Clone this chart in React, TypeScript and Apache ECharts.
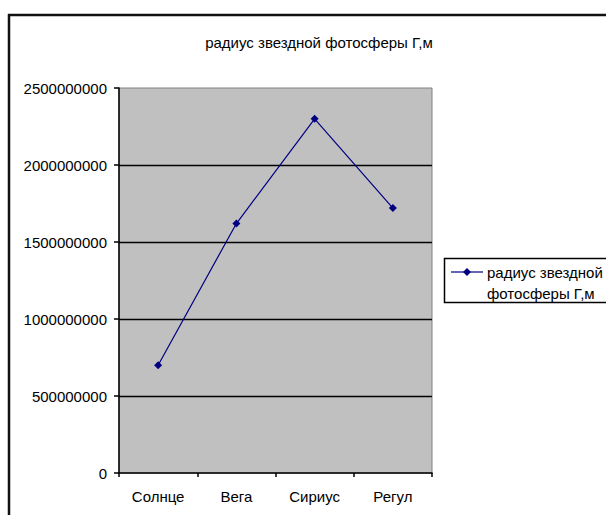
import React, { useEffect, useRef } from "react";
import * as echarts from "echarts";

// Stars and their photosphere radius, in metres
const stars = ["Солнце", "Вега", "Сириус", "Регул"];
const radiusMetres = [700000000, 1620000000, 2300000000, 1720000000];
const seriesName = "радиус звездной фотосферы Г,м";
const legendLines = ["радиус звездной", "фотосферы Г,м"];

const FONT = "'Liberation Sans', Arial, sans-serif";
const LINE_COLOR = "#000080";

export default function App() {
  const ref = useRef<HTMLDivElement>(null);

  useEffect(() => {
    if (!ref.current) return;
    const chart = echarts.init(ref.current, undefined, { renderer: "svg" });

    const legendX = 444;
    const legendY = 258;

    chart.setOption({
      animation: false,
      backgroundColor: "#ffffff",
      textStyle: { fontFamily: FONT },
      title: {
        text: seriesName,
        left: 314,
        top: 30,
        textAlign: "center",
        textStyle: { fontFamily: FONT, fontSize: 15, fontWeight: "normal", color: "#000" },
      },
      grid: {
        left: 119,
        top: 88,
        width: 313,
        height: 385,
        show: true,
        backgroundColor: "#C0C0C0",
        borderColor: "#808080",
        borderWidth: 1,
      },
      xAxis: {
        type: "category",
        data: stars,
        boundaryGap: true,
        axisLine: { show: true, lineStyle: { color: "#000", width: 1.5 } },
        axisTick: { show: true, length: 4, lineStyle: { color: "#000", width: 1.5 } },
        axisLabel: { margin: 16, fontFamily: FONT, fontSize: 15, color: "#000" },
        splitLine: { show: false },
      },
      yAxis: {
        type: "value",
        min: 0,
        max: 2500000000,
        interval: 500000000,
        axisLine: { show: true, lineStyle: { color: "#000", width: 1.5 } },
        axisTick: { show: true, length: 5, lineStyle: { color: "#000", width: 1.5 } },
        axisLabel: {
          margin: 12,
          fontFamily: FONT,
          fontSize: 15,
          color: "#000",
          formatter: (v: number) => String(v),
        },
        splitLine: {
          show: true,
          showMinLine: false,
          showMaxLine: false,
          lineStyle: { color: "#000", width: 1.4 },
        },
      },
      series: [
        {
          name: seriesName,
          type: "line",
          data: radiusMetres,
          symbol: "diamond",
          symbolSize: 8,
          lineStyle: { color: LINE_COLOR, width: 1.2 },
          itemStyle: { color: LINE_COLOR },
        },
      ],
      graphic: [
        // chart area frame (top and left edges; the rest runs off the page)
        {
          type: "line",
          shape: { x1: 9, y1: 515, x2: 9, y2: 14 },
          style: { stroke: "#111", lineWidth: 2.5 },
          silent: true,
          z: 100,
        },
        {
          type: "line",
          shape: { x1: 8, y1: 15, x2: 606, y2: 15 },
          style: { stroke: "#111", lineWidth: 2.5 },
          silent: true,
          z: 100,
        },
        // legend box
        {
          type: "rect",
          shape: { x: legendX + 0.5, y: legendY + 0.5, width: 200, height: 44 },
          style: { fill: "#fff", stroke: "#000", lineWidth: 1.5 },
          z: 50,
        },
        {
          type: "line",
          shape: { x1: legendX + 7, y1: legendY + 14, x2: legendX + 39, y2: legendY + 14 },
          style: { stroke: LINE_COLOR, lineWidth: 1.2 },
          z: 51,
        },
        {
          type: "polygon",
          shape: {
            points: [
              [legendX + 23, legendY + 10],
              [legendX + 27, legendY + 14],
              [legendX + 23, legendY + 18],
              [legendX + 19, legendY + 14],
            ],
          },
          style: { fill: LINE_COLOR },
          z: 52,
        },
        {
          type: "text",
          x: legendX + 43,
          y: legendY + 4,
          style: {
            text: legendLines.join("\n"),
            font: `15px ${FONT}`,
            fill: "#000",
            lineHeight: 21,
          },
          z: 52,
        },
      ],
    });

    return () => chart.dispose();
  }, []);

  return (
    <div
      ref={ref}
      style={{ position: "absolute", left: 0, top: 0, width: 606, height: 515 }}
    />
  );
}
